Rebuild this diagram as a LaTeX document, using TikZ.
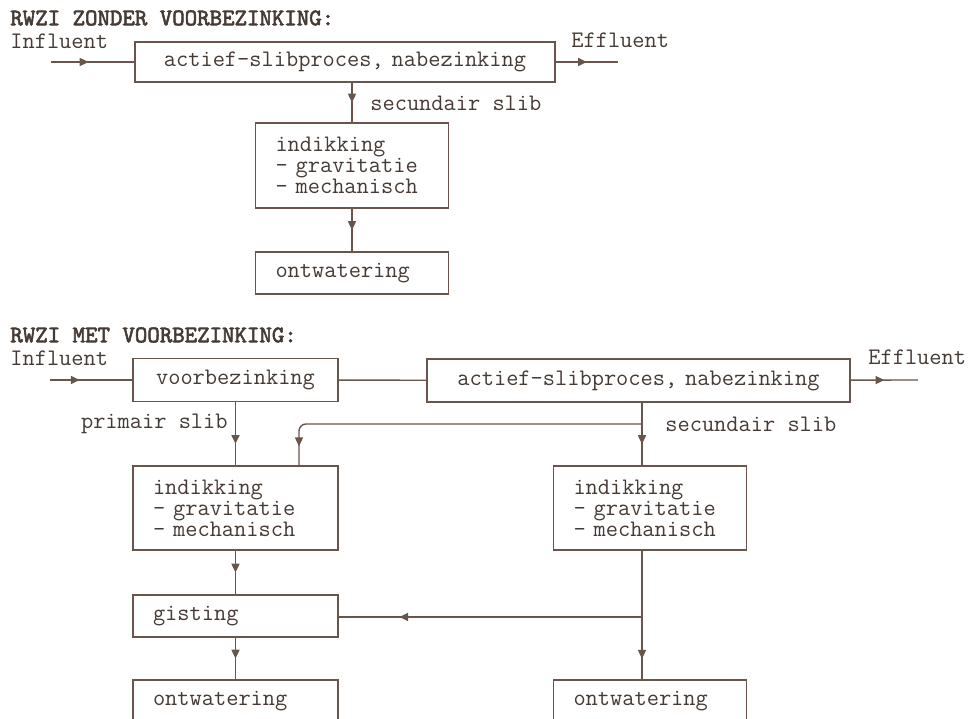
\documentclass[tikz,border=0pt]{standalone}
\usepackage{fontspec}
\newfontfamily\kopfont{lmmono10-regular.otf}[FakeBold=2.5]
\usetikzlibrary{arrows.meta,decorations.markings}
\definecolor{lijn}{RGB}{105,85,75}
\definecolor{tekst}{RGB}{70,58,52}
\tikzset{
  proces/.style={draw=lijn,line width=0.8pt,text=tekst,inner xsep=0.4cm,inner ysep=0pt,
    minimum height=0.84cm,align=left,font=\fontsize{13.5}{12}\selectfont\ttfamily},
  label/.style={text=tekst,inner sep=0pt,font=\fontsize{13.5}{12}\selectfont\ttfamily},
  kop/.style={text=tekst,inner sep=0pt,font=\fontsize{13.5}{12}\selectfont\kopfont},
  pijl/.style={draw=lijn,line width=0.8pt,postaction={decorate,decoration={markings,
    mark=at position #1 with {\arrow{Triangle[length=5pt,width=4.6pt]}}}}},
  pijl/.default=0.5
}
\begin{document}
\begin{tikzpicture}
    \useasboundingbox (0,0) rectangle (19.5,-14.38);
    \clip (0,0) rectangle (19.5,-14.38);
    \node[kop,anchor=west] (kop1) at (0.2,-0.36) {RWZI ZONDER VOORBEZINKING:};
    \node[label,anchor=west] (inf1) at (0.2,-0.82) {Influent};
    \node[proces,align=center,text width=7.6cm,minimum height=0.8cm] (act1) at (6.9,-1.24) {actief-slibproces, nabezinking};
    \node[label,anchor=west] (eff1) at (11.42,-0.8) {Effluent};
    \node[proces,text width=3.06cm,minimum height=1.7cm] (ind1) at (7.04,-3.31) {indikking\\- gravitatie\\- mechanisch};
    \node[proces,text width=3.06cm] (ont1) at (7.04,-5.46) {ontwatering};
    \node[label,anchor=west] (sec1) at (7.4,-2.06) {secundair slib};
    \coordinate (in1) at (1.02,-1.24);
    \coordinate (uit1) at (12.36,-1.24);
    \draw[pijl=0.45] (in1) -- (act1);
    \draw[pijl] (act1) -- (uit1);
    \draw[pijl] (act1.south -| ind1.north) -- (ind1.north);
    \draw[pijl] (ind1) -- (ont1);

    \node[kop,anchor=west] (kop2) at (0.2,-6.7) {RWZI MET VOORBEZINKING:};
    \node[label,anchor=west] (inf2) at (0.2,-7.16) {Influent};
    \node[proces,align=center,text width=3.3cm,minimum height=0.86cm] (voor) at (4.71,-7.6) {voorbezinking};
    \node[proces,align=center,text width=7.66cm,minimum height=0.86cm] (act2) at (12.77,-7.61) {actief-slibproces, nabezinking};
    \node[label,anchor=west] (eff2) at (17.36,-7.14) {Effluent};
    \node[proces,text width=3.3cm,minimum height=1.68cm] (ind2) at (4.71,-10.16) {indikking\\- gravitatie\\- mechanisch};
    \node[proces,text width=3.06cm,minimum height=1.68cm] (ind3) at (13.0,-10.16) {indikking\\- gravitatie\\- mechanisch};
    \node[proces,text width=3.3cm] (gist) at (4.71,-12.32) {gisting};
    \node[proces,text width=3.3cm] (ont2) at (4.71,-14.02) {ontwatering};
    \node[proces,text width=3.06cm] (ont3) at (13.0,-14.02) {ontwatering};
    \node[label,anchor=east] (prim) at (4.56,-8.48) {primair slib};
    \node[label,anchor=west] (sec2) at (13.3,-8.48) {secundair slib};
    \coordinate (in2) at (1.0,-7.6);
    \coordinate (uit2) at (18.36,-7.6);
    \coordinate (sx) at (12.84,-8.48);
    \coordinate (tak) at (5.98,-8.48);
    \coordinate (gx) at (12.84,-12.34);
    \draw[pijl=0.36] (in2) -- (voor);
    \draw[draw=lijn,line width=0.8pt] (voor) -- (act2);
    \draw[pijl] (act2) -- (uit2);
    \draw[pijl=0.66] (voor) -- (ind2);
    \draw[pijl=0.66] (act2.south -| sx) -- (ind3.north -| sx);
    \draw[pijl=0.95,rounded corners=4pt] (sx) -| (ind2.north -| tak);
    \draw[pijl] (ind2) -- (gist);
    \draw[pijl] (gist) -- (ont2);
    \draw[pijl=0.84] (ind3.south -| sx) -- (ont3.north -| sx);
    \draw[pijl=0.8] (gx) -- (gist.east |- gx);
\end{tikzpicture}
\end{document}
